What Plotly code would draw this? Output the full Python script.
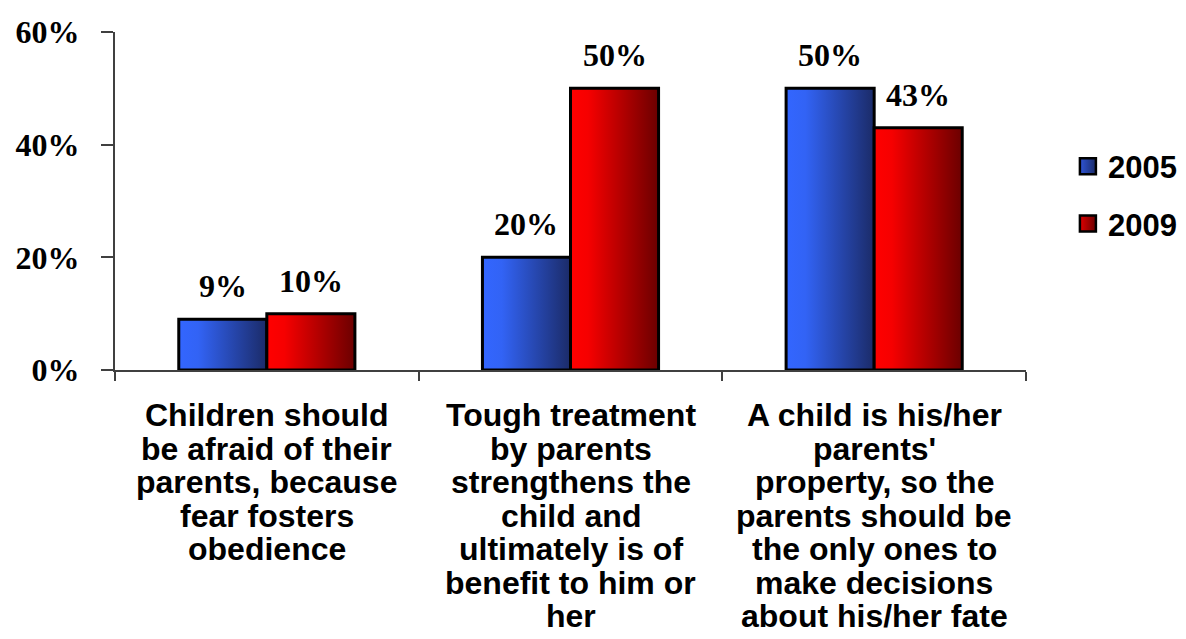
import plotly.graph_objects as go

# Survey statements (one label line per list entry)
categories = [
    ["Children should", "be afraid of their", "parents, because", "fear fosters", "obedience"],
    ["Tough treatment", "by parents", "strengthens the", "child and", "ultimately is of",
     "benefit to him or", "her"],
    ["A child is his/her", "parents'", "property, so the", "parents should be",
     "the only ones to", "make decisions", "about his/her fate"],
]
years = ["2005", "2009"]
values_2005 = [9, 20, 50]
values_2009 = [10, 50, 43]

y_ticks = [0, 20, 40, 60]
y_ticktext = ["0%", "20%", "40%", "60%"]

series = [
    dict(name=years[0], values=values_2005, offset=-0.145,
         scale=[[0, "#3366ff"], [0.22, "#3263f5"], [1, "#1b2b68"]], swatch="#2f55d8",
         dark="#1b2b68"),
    dict(name=years[1], values=values_2009, offset=0.145,
         scale=[[0, "#ff0000"], [0.2, "#f60000"], [1, "#6b0000"]], swatch="#e00000",
         dark="#6b0000"),
]
bar_w = 0.29

label_font = dict(family="Liberation Serif, Times New Roman, serif", size=32,
                  color="black", weight="bold")
cat_font = dict(family="Liberation Sans, Arial, sans-serif", size=32,
                color="black", weight="bold")

fig = go.Figure()

# Bars are drawn as filled rectangles so each one can carry a horizontal gradient
for s in series:
    for i, v in enumerate(s["values"]):
        xc = i + s["offset"]
        x0, x1 = xc - bar_w / 2, xc + bar_w / 2
        fig.add_trace(go.Scatter(
            x=[x0, x1, x1, x0, x0], y=[0, 0, v, v, 0],
            mode="lines", fill="toself",
            fillgradient=dict(type="horizontal", colorscale=s["scale"]),
            line=dict(color="black", width=3),
            showlegend=False, hoverinfo="skip",
        ))
        fig.add_annotation(x=xc, y=v, xref="x", yref="y", text=f"{v}%",
                           showarrow=False, yanchor="middle", yshift=33,
                           font=label_font)

# Legend entries
for s in series:
    fig.add_trace(go.Scatter(
        x=[None], y=[None], mode="markers", name=s["name"], legendgroup=s["name"],
        marker=dict(symbol="square", size=16, color=s["swatch"],
                    gradient=dict(type="horizontal", color=s["dark"]),
                    line=dict(color="black", width=2.5)),
    ))

# Category labels, one line at a time for tight line spacing
line_gap = 33.5
for i, lines in enumerate(categories):
    for j, txt in enumerate(lines):
        fig.add_annotation(x=i, y=0, xref="x", yref="paper", text=txt,
                           showarrow=False, xanchor="center", yanchor="middle",
                           yshift=-(45 + j * line_gap), font=cat_font)

fig.update_layout(
    width=1186, height=639,
    margin=dict(l=115, r=160, t=32, b=269, autoexpand=False),
    paper_bgcolor="white", plot_bgcolor="white",
    showlegend=True,
    legend=dict(x=1.046, xanchor="left", y=0.682, yanchor="top",
                traceorder="grouped", tracegroupgap=14,
                font=dict(family="Liberation Sans, Arial, sans-serif", size=31,
                          color="black", weight="bold"),
                bgcolor="rgba(0,0,0,0)"),
    xaxis=dict(range=[-0.5, 2.5], tickvals=[-0.5, 0.5, 1.5, 2.5], showticklabels=False,
               ticks="outside", ticklen=9, tickwidth=2, tickcolor="#404040",
               showline=True, linecolor="#404040", linewidth=2,
               showgrid=False, zeroline=False, fixedrange=True),
    yaxis=dict(range=[0, 60], tickvals=y_ticks, ticktext=y_ticktext,
               ticks="outside", ticklen=12, tickwidth=2, tickcolor="#404040",
               ticklabelstandoff=15, tickfont=label_font,
               showline=True, linecolor="#404040", linewidth=2,
               showgrid=False, zeroline=False, fixedrange=True),
)

fig.write_html("out.html")
